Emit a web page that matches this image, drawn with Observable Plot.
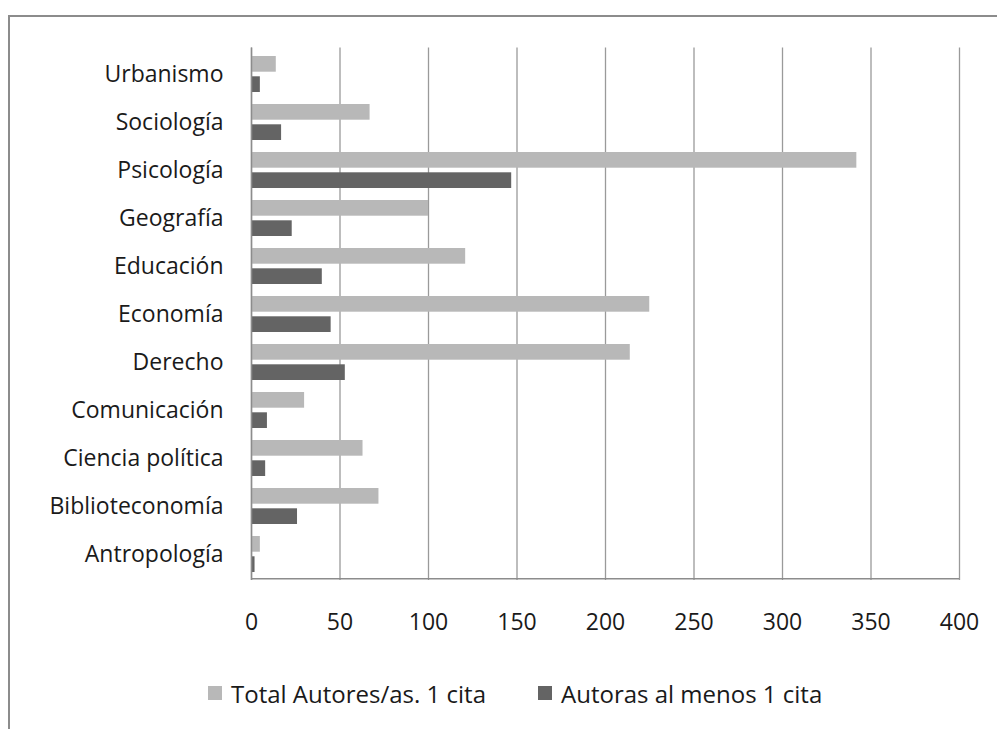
<!DOCTYPE html>
<html>
<head>
<meta charset="utf-8">
<script src="https://cdn.jsdelivr.net/npm/d3@7"></script>
<script src="https://cdn.jsdelivr.net/npm/@observablehq/plot@0.6"></script>
<style>
  html, body { margin: 0; padding: 0; background: #fff; }
  #wrap { position: relative; width: 997px; height: 729px; overflow: hidden; font-family: "Open Sans", sans-serif; }
  #frame { position: absolute; left: 8px; top: 15px; width: 1100px; height: 800px; border-top: 2px solid #8c8c8c; border-left: 2px solid #8c8c8c; box-sizing: border-box; pointer-events: none; }
  #chart { position: absolute; left: 0; top: 0; }
  #legend { position: absolute; left: 0; top: 678px; width: 997px; height: 30px; font-size: 24px; color: #1a1a1a; }
  .item { position: absolute; top: 0; display: flex; align-items: center; height: 30px; white-space: nowrap; }
  .sw { width: 14px; height: 14px; margin-right: 9px; }
</style>
</head>
<body>
<div id="wrap">
  <div id="chart"></div>
  <div id="legend"></div>
  <div id="frame"></div>
</div>
<script>
// Categories, top to bottom as drawn
const categories = ["Urbanismo", "Sociología", "Psicología", "Geografía", "Educación", "Economía", "Derecho", "Comunicación", "Ciencia política", "Biblioteconomía", "Antropología"];
// Series
const seriesNames = ["Total Autores/as. 1 cita", "Autoras al menos 1 cita"];
const totalAutores = [14, 67, 342, 100, 121, 225, 214, 30, 63, 72, 5];
const autoras = [5, 17, 147, 23, 40, 45, 53, 9, 8, 26, 2];
const xTicks = [0, 50, 100, 150, 200, 250, 300, 350, 400];
const colors = ["#b8b8b8", "#646464"];

const dataTotal = categories.map((c, i) => ({cat: c, value: totalAutores[i]}));
const dataAutoras = categories.map((c, i) => ({cat: c, value: autoras[i]}));

const W = 997, H = 660;
const mTop = 47.6, mBottom = 80, mLeft = 251, mRight = 38;
const plotH = H - mTop - mBottom;
const step = plotH / categories.length;
const bandW = step * 0.75;
const barH = 16;

const chart = Plot.plot({
  width: W,
  height: H,
  marginTop: mTop,
  marginBottom: mBottom,
  marginLeft: mLeft,
  marginRight: mRight,
  style: { fontFamily: "Open Sans, sans-serif", color: "#1a1a1a", background: "transparent" },
  x: { domain: [0, 400], ticks: xTicks, label: null },
  y: { domain: categories, paddingInner: 0.25, paddingOuter: 0.125, label: null },
  marks: [
    Plot.gridX(xTicks, { stroke: "#9a9a9a", strokeOpacity: 1, strokeWidth: 1.3 }),
    Plot.barX(dataTotal, { x: "value", y: "cat", fill: colors[0], insetBottom: bandW - barH }),
    Plot.barX(dataAutoras, { x: "value", y: "cat", fill: colors[1], insetTop: bandW - barH }),
    Plot.ruleX([0], { stroke: "#8c8c8c", strokeWidth: 1.5 }),
    Plot.ruleY([categories[categories.length - 1]], { stroke: "#8c8c8c", strokeWidth: 1.5, dy: step / 2 }),
    Plot.axisX(xTicks, { anchor: "bottom", tickSize: 0, tickPadding: 33, fontSize: 23, tickFormat: d => String(d), fill: "#1a1a1a", label: null }),
    Plot.axisY({ anchor: "left", tickSize: 0, tickPadding: 28, fontSize: 23, fill: "#1a1a1a", label: null })
  ]
});
document.getElementById("chart").appendChild(chart);

const legend = document.getElementById("legend");
const lefts = [208, 538];
seriesNames.forEach((name, i) => {
  const it = document.createElement("div");
  it.className = "item";
  it.style.left = lefts[i] + "px";
  const sw = document.createElement("div");
  sw.className = "sw";
  sw.style.background = colors[i];
  const tx = document.createElement("span");
  tx.textContent = name;
  it.appendChild(sw);
  it.appendChild(tx);
  legend.appendChild(it);
});
</script>
</body>
</html>
